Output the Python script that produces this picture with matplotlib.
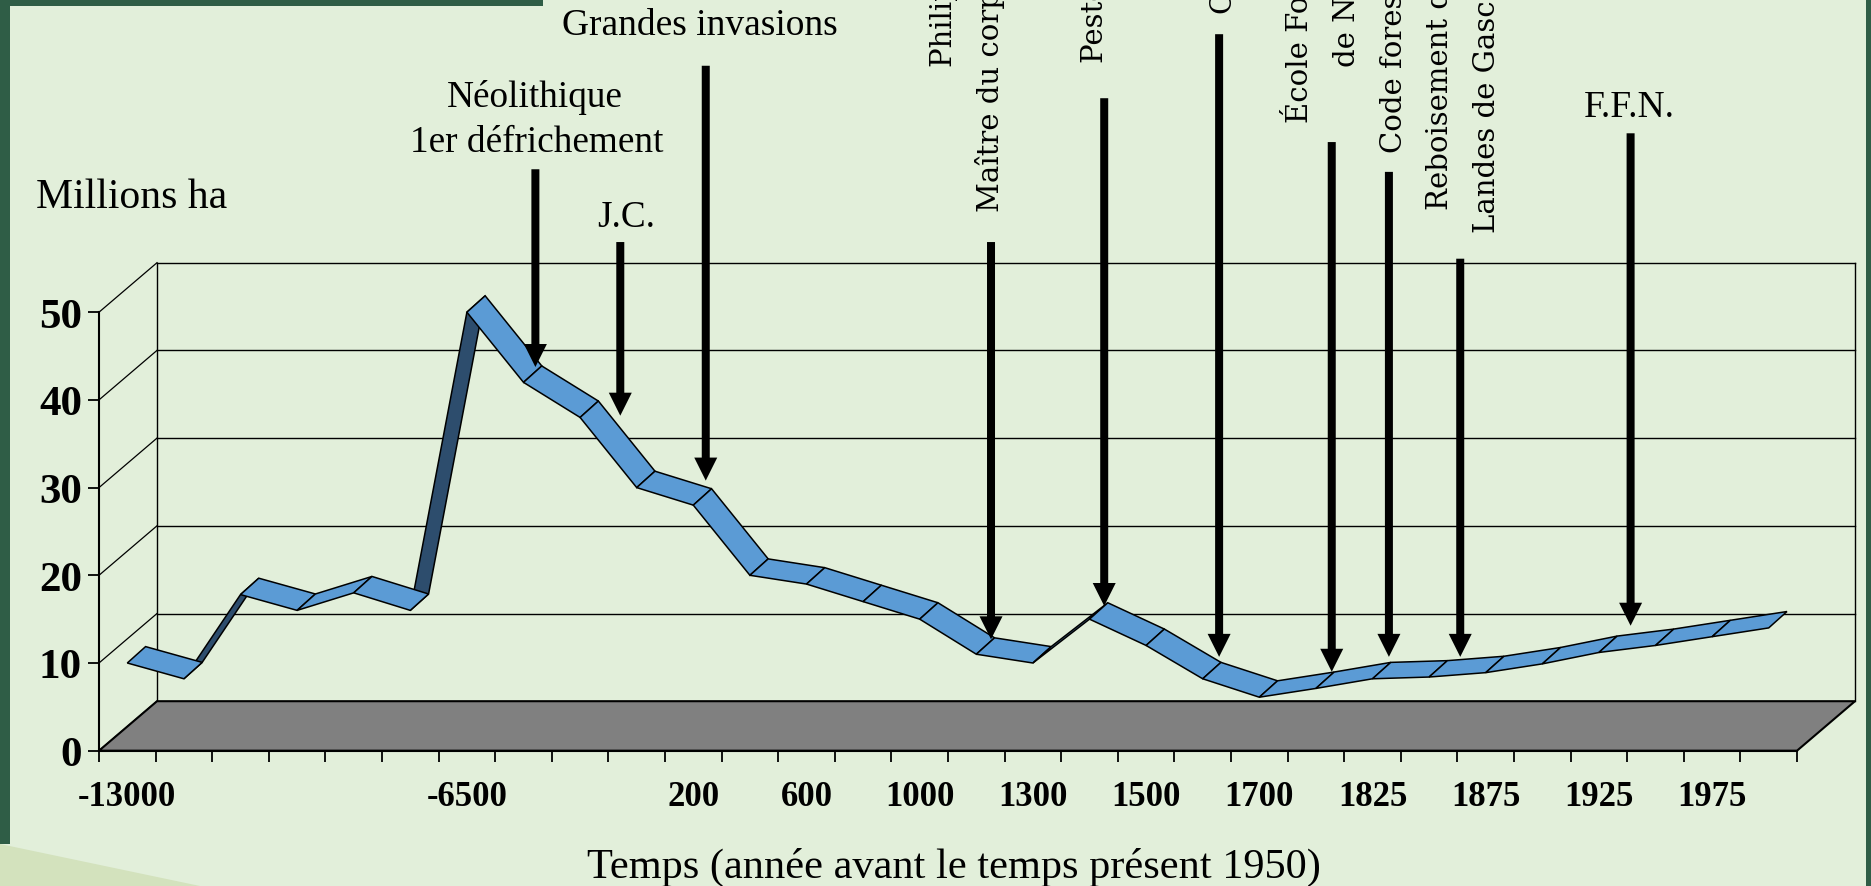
import numpy as np
import matplotlib
matplotlib.use('Agg')
import matplotlib.pyplot as plt
from matplotlib.patches import Polygon, Rectangle
import matplotlib.transforms as mtransforms

W, H = 1871, 887
BG = '#E2EFDA'
DARK_GREEN = '#2F5D46'

# surface forestiere (millions ha), une valeur par categorie
values = [10, 8.2, 17.8, 16, 18, 16, 50, 42, 38, 30, 28, 20, 19, 17, 15,
          11, 10, 15, 12, 8.2, 6.1, 7.1, 8.2, 8.4, 8.9, 9.9, 11.2, 12, 13, 14]
tick_labels = ['-13000', '', '', '', '', '', '-6500', '', '', '', '200', '', '600', '',
               '1000', '', '1300', '', '1500', '', '1700', '', '1825', '', '1875', '',
               '1925', '', '1975', '']
yticks = [0, 10, 20, 30, 40, 50]

# fleches : position (categorie), haut et pointe (millions ha)
arrow_x = [7.71, 9.21, 10.72, 15.76, 17.76, 19.79, 21.78, 22.79, 24.05, 27.06]
arrow_top = [66.3, 58.0, 78.1, 58.0, 74.4, 81.7, 69.4, 66.0, 56.1, 70.4]
arrow_tip = [43.75, 38.2, 30.8, 12.7, 16.5, 10.7, 9.0, 10.7, 10.7, 14.25]

# textes horizontaux : texte, x, ligne de base (pixels depuis le haut), alignement, taille
flat_labels = [
    ('Millions ha', 36, 208, 'left', 30),
    ('Néolithique', 535, 107, 'center', 26.8),
    ('1er défrichement', 537, 152, 'center', 26.8),
    ('J.C.', 626, 227, 'center', 26.8),
    ('Grandes invasions', 700, 35, 'center', 27),
    ('F.F.N.', 1629, 117, 'center', 27),
]
# textes verticaux : texte, centre x, bas (pixels depuis le haut)
vert_labels = [
    ('Philippe le Bel', 944, 67),
    ('Maître du corps des eaux et forêts', 990, 212),
    ('Peste noire', 1095, 63),
    ('Colbert', 1222, 13),
    ('École Forestière', 1300, 123),
    ('de Nancy', 1347, 67),
    ('Code forestier', 1394, 153),
    ('Reboisement des', 1440, 210),
    ('Landes de Gascogne', 1487, 233),
]

n = len(values)
DX, DY = 58 / 56.6, 49.5 / 8.77      # profondeur du plancher / mur du fond
RX, RY = 0.323, 1.87                 # epaisseur du ruban

fig = plt.figure(figsize=(W / 100, H / 100), dpi=100, facecolor=BG)
top_px = mtransforms.Affine2D().scale(1, -1).translate(0, H)

# cadre de la diapo
fig.add_artist(Rectangle((0, 0), 9.6, 845, transform=top_px, fc=DARK_GREEN, ec='none'))
fig.add_artist(Rectangle((0, 0), 543, 7.3, transform=top_px, fc=DARK_GREEN, ec='none'))
fig.add_artist(Rectangle((1866, 0), 5, H, transform=top_px, fc=DARK_GREEN, ec='none'))
fig.add_artist(Polygon([(0, 845), (200, 887), (0, 887)], transform=top_px,
                       fc='#D3E2BD', ec='none'))

ax = fig.add_axes([99 / W, (H - 751.7) / H, 1698 / W, 438.5 / H])
ax.patch.set_visible(False)
ax.set_xlim(0, n)
ax.set_ylim(0, 50)
for s in ('top', 'right'):
    ax.spines[s].set_visible(False)
for s in ('left', 'bottom'):
    ax.spines[s].set_linewidth(1.5)
    ax.spines[s].set_zorder(2)

# mur du fond et paroi gauche
for yv in yticks:
    ax.plot([0, DX], [yv, yv + DY], color='black', lw=0.9, clip_on=False, zorder=1)
    if yv > 0:
        ax.plot([DX, n + DX], [yv + DY, yv + DY], color='black', lw=1.0, clip_on=False, zorder=1)
for xv in (DX, n + DX):
    ax.plot([xv, xv], [DY, 50 + DY], color='black', lw=1.0, clip_on=False, zorder=1)

# plancher gris
ax.add_patch(Polygon([(0, 0), (n, 0), (n + DX, DY), (DX, DY)], closed=True,
                     fc='#808080', ec='black', lw=1.5, clip_on=False, zorder=1.5))

# ruban 3D
xc = np.arange(n) + 0.5
v = np.array(values, dtype=float)
light, dark = [], []
for i in range(n - 1):
    quad = [(xc[i], v[i]), (xc[i + 1], v[i + 1]),
            (xc[i + 1] + RX, v[i + 1] + RY), (xc[i] + RX, v[i] + RY)]
    if RY - (v[i + 1] - v[i]) * RX > 0:
        light.append(quad)
    else:
        dark.append(quad)
for quads, col, z in ((dark, '#2D4D6D', 3), (light, '#5B9BD5', 3.1)):
    for q in quads:
        ax.add_patch(Polygon(q, closed=True, fc=col, ec='black', lw=1.1,
                             clip_on=False, zorder=z))

# fleches
for x, t, p in zip(arrow_x, arrow_top, arrow_tip):
    ax.arrow(x, t, 0, p - t, width=8 / 56.6, head_width=23 / 56.6, head_length=23 / 8.77,
             length_includes_head=True, fc='black', ec='none', lw=0, clip_on=False, zorder=5)

# axes
ax.set_xticks(np.arange(n + 1))
ax.set_xticklabels([])
ax.set_xticks(xc, minor=True)
ax.set_xticklabels(tick_labels, minor=True)
ax.tick_params(axis='x', which='major', length=7.9, width=1.3, direction='out')
ax.tick_params(axis='x', which='minor', length=0, pad=21)
ax.set_yticks(yticks)
ax.tick_params(axis='y', length=7.9, width=1.3, direction='out', pad=4.3)
for lab in ax.get_xticklabels(minor=True):
    lab.set_fontfamily('Liberation Serif')
    lab.set_fontweight('bold')
    lab.set_fontsize(25)
for lab in ax.get_yticklabels():
    lab.set_fontfamily('Liberation Serif')
    lab.set_fontweight('bold')
    lab.set_fontsize(31)

ax.set_xlabel('Temps (année avant le temps présent 1950)', fontsize=30.5,
              family='Liberation Serif')
ax.xaxis.set_label_coords(0.5035, -0.22)

for txt, x, y, ha, size in flat_labels:
    fig.text(x, y, txt, transform=top_px, ha=ha, va='baseline', fontsize=size,
             family='Liberation Serif')
for txt, x, y in vert_labels:
    fig.text(x, y, txt, transform=top_px, ha='center', va='bottom', rotation=90,
             fontsize=21, family='DejaVu Serif')

fig.savefig('out.png', dpi=100, facecolor=BG)
